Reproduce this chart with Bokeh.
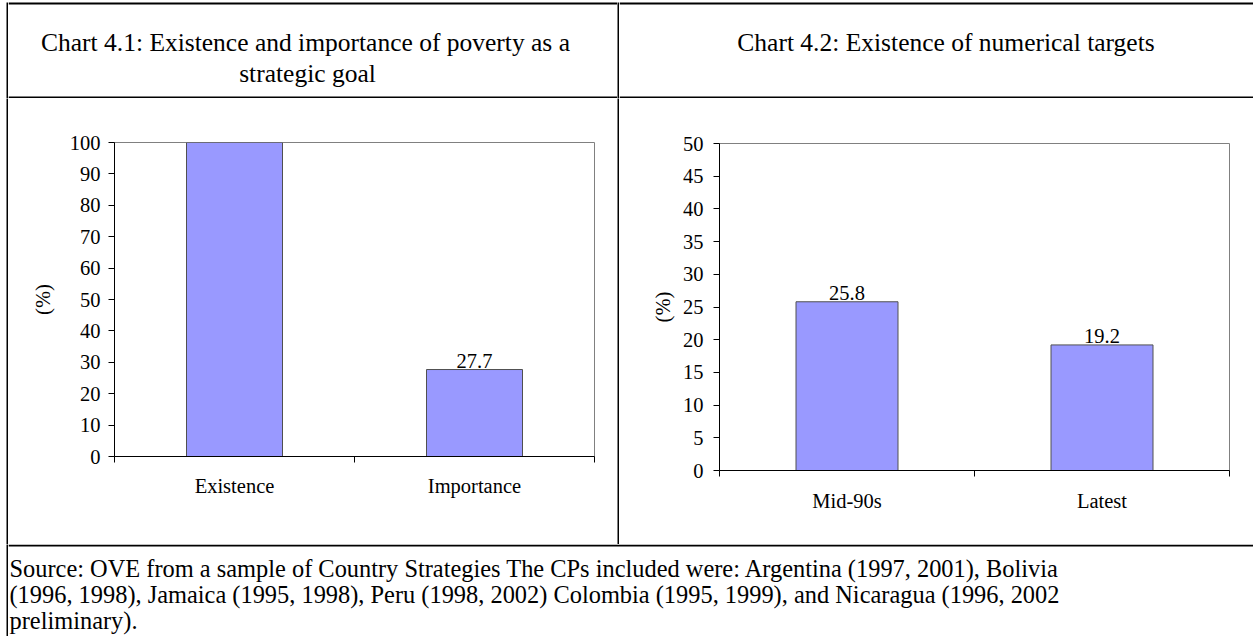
from bokeh.plotting import figure
from bokeh.models import Range1d, FixedTicker, ColumnDataSource
from bokeh.layouts import column, row
from bokeh.embed import file_html
from bokeh.resources import INLINE
from bokeh.core.properties import value

FONT = "Liberation Serif"

# ---------------- data ----------------
title1_lines = ["Chart 4.1: Existence and importance of poverty as a", "strategic goal"]
title2_lines = ["Chart 4.2: Existence of numerical targets"]

cats1 = ["Existence", "Importance"]
vals1 = [100, 27.7]
labels1 = ["", "27.7"]
yticks1 = [0, 10, 20, 30, 40, 50, 60, 70, 80, 90, 100]

cats2 = ["Mid-90s", "Latest"]
vals2 = [25.8, 19.2]
labels2 = ["25.8", "19.2"]
yticks2 = [0, 5, 10, 15, 20, 25, 30, 35, 40, 45, 50]

ylabel = "(%)"

source_lines = [
    "Source: OVE from a sample of Country Strategies The CPs included were: Argentina (1997, 2001), Bolivia",
    "(1996, 1998), Jamaica (1995, 1998), Peru (1998, 2002) Colombia (1995, 1999), and Nicaragua (1996, 2002",
    "preliminary).",
]

BAR_FILL = "#9999FF"
BAR_LINE = "#505050"
TXT = "20.5px"
TITLE = "25.5px"
SRC = "24.4px"


def blank_fig(width, height, bg="white"):
    p = figure(width=width, height=height, x_range=Range1d(0, width), y_range=Range1d(height, 0),
               output_backend="svg", toolbar_location=None, min_border=0, title=None,
               x_axis_location=None, y_axis_location=None,
               background_fill_color=bg, border_fill_color=bg)
    p.outline_line_color = None
    p.grid.grid_line_color = None
    return p


def hrule(p, y0, y1):
    # table rule drawn inside a text cell (pixel-unit ranges)
    p.quad(left=[0], right=[p.x_range.end], top=[y0], bottom=[y1],
           fill_color="black", line_color=None)


def bar_chart(cats, vals, labels, yticks, ymax, width, height, bl, br, bt, bb,
              tick_standoff, lab_standoff, cat_standoff):
    n = len(cats)
    p = figure(width=width, height=height, output_backend="svg", toolbar_location=None,
               title=None, x_range=Range1d(0, n), y_range=Range1d(0, ymax),
               min_border_left=bl, min_border_right=br, min_border_top=bt, min_border_bottom=bb)
    p.grid.grid_line_color = None
    p.outline_line_color = "#808080"
    p.outline_line_width = 1
    xs = [i + 0.5 for i in range(n)]
    src = ColumnDataSource(dict(x=xs, top=vals, label=labels))
    p.vbar(x="x", top="top", bottom=0, width=0.4, source=src,
           fill_color=BAR_FILL, line_color=BAR_LINE, line_width=1)
    p.text(x="x", y="top", text="label", source=src, text_font=value(FONT),
           text_font_size=TXT, text_align="center", text_baseline="alphabetic",
           y_offset=-9, text_color="black")

    xa = p.xaxis[0]
    xa.ticker = FixedTicker(ticks=xs, minor_ticks=list(range(n + 1)))
    xa.major_label_overrides = {x: c for x, c in zip(xs, cats)}
    xa.major_tick_out = 0
    xa.major_tick_in = 0
    xa.minor_tick_out = 6
    xa.minor_tick_in = 0
    xa.minor_tick_line_color = "black"
    xa.major_label_standoff = cat_standoff
    xa.major_label_text_font = FONT
    xa.major_label_text_font_size = TXT
    xa.major_label_text_color = "black"
    xa.axis_line_color = "black"

    ya = p.yaxis[0]
    ya.ticker = FixedTicker(ticks=yticks, minor_ticks=[])
    ya.major_tick_out = 6
    ya.major_tick_in = 0
    ya.major_tick_line_color = "black"
    ya.major_label_standoff = tick_standoff
    ya.major_label_text_font = FONT
    ya.major_label_text_font_size = TXT
    ya.major_label_text_color = "black"
    ya.axis_line_color = "black"
    ya.axis_label = ylabel
    ya.axis_label_text_font = FONT
    ya.axis_label_text_font_size = TXT
    ya.axis_label_text_font_style = "normal"
    ya.axis_label_text_color = "black"
    ya.axis_label_standoff = lab_standoff
    return p


LEFT_PAD = 6
W_L, W_R = 609, 634
H_HEAD, H_CHART, H_SRC = 98, 446, 92
TOTAL_W = LEFT_PAD + 2 + W_L + 2 + W_R

# header cells (top rule at y 2-4, bottom rule at y 96-98)
head1 = blank_fig(W_L, H_HEAD)
hrule(head1, 2, 4)
hrule(head1, 96, 98)
head1.text(x=[297, 299], y=[42, 73],
           text=title1_lines, text_font=value(FONT), text_font_size=TITLE,
           text_align="center", text_baseline="alphabetic", text_color="black")
head2 = blank_fig(W_R, H_HEAD)
hrule(head2, 2, 4)
hrule(head2, 96, 98)
head2.text(x=[326.5], y=[42],
           text=title2_lines, text_font=value(FONT), text_font_size=TITLE,
           text_align="center", text_baseline="alphabetic", text_color="black")

# chart cells
chart1 = bar_chart(cats1, vals1, labels1, yticks1, 100, W_L, H_CHART, 106, 23, 44, 88, 8, 13, 12)
chart2 = bar_chart(cats2, vals2, labels2, yticks2, 50, W_R, H_CHART, 100, 24, 45, 74, 10, 6, 13)

# source cell (top rule at y 0-2)
src_fig = blank_fig(TOTAL_W - LEFT_PAD - 2, H_SRC)
hrule(src_fig, 0, 2)
src_fig.text(x=[1] * len(source_lines), y=[24 + 26 * i for i in range(len(source_lines))],
             text=source_lines, text_font=value(FONT), text_font_size=SRC,
             text_align="left", text_baseline="alphabetic", text_color="black")


def vline(h):
    return blank_fig(2, h, bg="black")


def pad(h):
    return blank_fig(LEFT_PAD, h)


layout = column(
    row(pad(H_HEAD), column(blank_fig(2, 2), vline(H_HEAD - 2)), head1,
        column(blank_fig(2, 2), vline(H_HEAD - 2)), head2),
    row(pad(H_CHART), vline(H_CHART), column(chart1), vline(H_CHART), column(chart2)),
    row(pad(H_SRC), vline(H_SRC), src_fig),
)

open("out.html", "w").write(file_html(layout, INLINE))
